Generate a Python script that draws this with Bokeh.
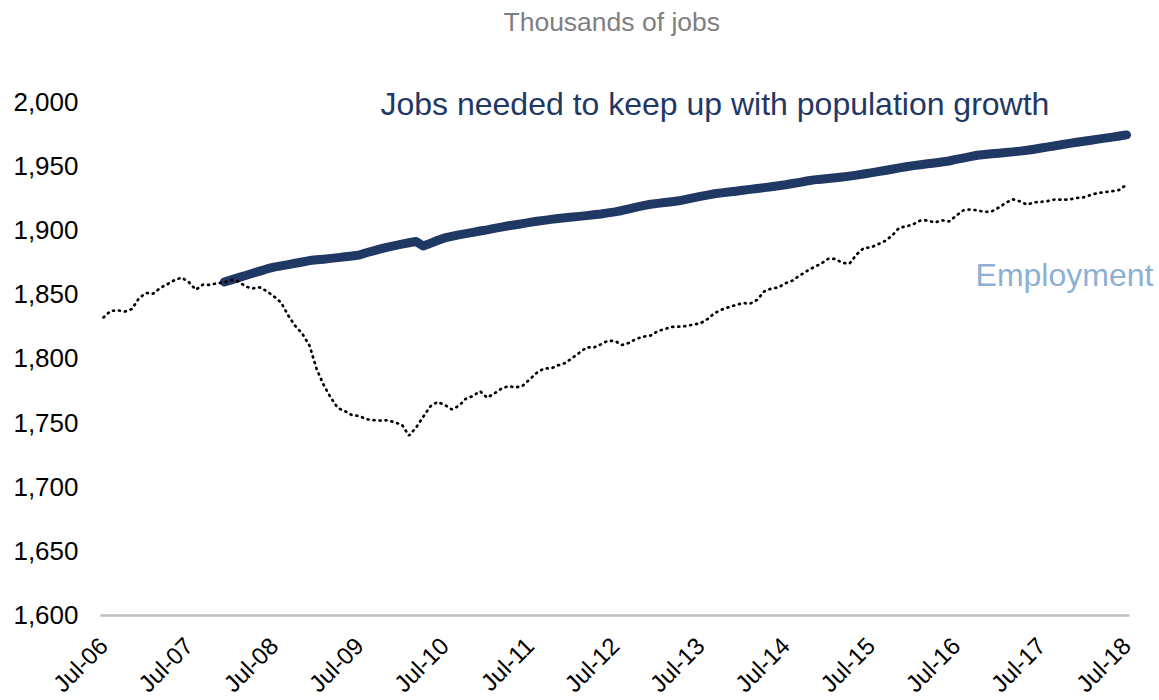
from bokeh.plotting import figure
from bokeh.models import FixedTicker, NumeralTickFormatter, Label, Range1d
from bokeh.embed import file_html
from bokeh.resources import INLINE
import math

# Months from Jul-06 (index 0) to Jul-18 (index 144)
months = list(range(145))

employment = [
    1832, 1837, 1837.5, 1836.5, 1838.5, 1847, 1851, 1850.5, 1855, 1857.8,
    1861, 1863, 1859.5, 1853.5, 1857.5, 1857.3, 1858.6, 1859.2, 1861.2, 1860,
    1856, 1854.5, 1855.4, 1852.3, 1848.3, 1843.5, 1833.5, 1825.3, 1819.2, 1810,
    1791.8, 1779.3, 1769.4, 1761.4, 1759, 1755.8, 1755.3, 1752.8, 1752, 1751.7,
    1752, 1750.3, 1748.5, 1740, 1746.3, 1754.6, 1762.7, 1766.2, 1764, 1760.4,
    1763, 1768.7, 1770.8, 1774.6, 1769.5, 1772.7, 1776.5, 1778.5, 1777.4, 1778.8,
    1783.8, 1788.9, 1792.3, 1792.3, 1794.7, 1796.5, 1800.5, 1804.5, 1808.7, 1808.5,
    1811, 1813.8, 1813.6, 1810.5, 1812.2, 1815.3, 1817, 1817.8, 1821.3, 1822.9,
    1824.6, 1824.8, 1825.2, 1826.4, 1827.3, 1830.6, 1835.2, 1838, 1839.9, 1841.6,
    1843.2, 1842.6, 1845.6, 1852.2, 1854.4, 1855.3, 1858.6, 1860.7, 1864.6, 1868,
    1871.1, 1873.7, 1877.6, 1877.5, 1874.4, 1873.8, 1880.9, 1885.9, 1886.5, 1888.8,
    1891.4, 1895.6, 1901.7, 1902.8, 1904.5, 1907.4, 1907.5, 1905.8, 1907.6, 1906.6,
    1911, 1915.2, 1916, 1915.3, 1914.1, 1914.4, 1917.4, 1921.1, 1923.9, 1922.3,
    1919.7, 1921.5, 1921.9, 1922.6, 1923.9, 1923.5, 1923.8, 1924.9, 1925.5, 1927.3,
    1928.8, 1929.5, 1930.2, 1931.2, 1935.4,
]

# Jobs needed to keep up with population growth: from Dec-07 (index 17)
jobs_months = list(range(17, 145))
jobs_needed = [
    1859.5, 1861.2, 1862.9, 1864.6, 1866.3, 1868, 1869.7, 1871.1, 1872.1, 1873.1,
    1874.1, 1875.1, 1876.2, 1876.8, 1877.3, 1877.9, 1878.5, 1879.2, 1879.8, 1880.5,
    1882.3, 1883.8, 1885.3, 1886.7, 1887.8, 1889, 1890.1, 1891.1, 1887.5, 1889.6,
    1891.8, 1893.8, 1895, 1896.2, 1897.2, 1898.2, 1899.2, 1900.1, 1901.2, 1902.3,
    1903.3, 1904.1, 1905, 1905.9, 1906.8, 1907.5, 1908.3, 1909, 1909.5, 1910.1,
    1910.6, 1911.2, 1911.9, 1912.5, 1913.3, 1914.1, 1915.2, 1916.5, 1917.8, 1919,
    1920, 1920.7, 1921.4, 1922, 1922.7, 1923.8, 1925, 1926.1, 1927.1, 1928.2,
    1928.9, 1929.6, 1930.2, 1930.9, 1931.6, 1932.3, 1933, 1933.7, 1934.4, 1935.2,
    1936.2, 1937.1, 1938.1, 1939, 1939.5, 1940.1, 1940.6, 1941.2, 1941.9, 1942.7,
    1943.6, 1944.5, 1945.4, 1946.3, 1947.3, 1948.3, 1949.2, 1950.1, 1950.8, 1951.5,
    1952.2, 1952.9, 1953.7, 1954.9, 1956, 1957.1, 1958.2, 1958.8, 1959.3, 1959.8,
    1960.3, 1960.8, 1961.4, 1962.1, 1962.9, 1963.8, 1964.7, 1965.6, 1966.5, 1967.4,
    1968.3, 1969.1, 1969.9, 1970.7, 1971.5, 1972.3, 1973.1, 1974,
]

tick_positions = [0, 12, 24, 36, 48, 60, 72, 84, 96, 108, 120, 132, 144]
tick_labels = ["Jul-06", "Jul-07", "Jul-08", "Jul-09", "Jul-10", "Jul-11", "Jul-12",
               "Jul-13", "Jul-14", "Jul-15", "Jul-16", "Jul-17", "Jul-18"]
y_ticks = [1600, 1650, 1700, 1750, 1800, 1850, 1900, 1950, 2000]

FONT = "Liberation Sans"
NAVY = "#1F3864"

x_pad = 0.422
p = figure(width=1159, height=700, output_backend="svg", toolbar_location=None,
           x_range=Range1d(-14.499, 148.645), y_range=Range1d(1533.85, 2078.6),
           min_border_left=0, min_border_right=0, min_border_top=0, min_border_bottom=0)
p.outline_line_color = None
p.background_fill_color = "white"
p.border_fill_color = "white"
p.xgrid.grid_line_color = None
p.ygrid.grid_line_color = None

# y axis fixed at the left edge of the plotting area
p.yaxis.fixed_location = months[0] - x_pad
p.yaxis.ticker = FixedTicker(ticks=y_ticks)
p.yaxis.formatter = NumeralTickFormatter(format="0,0")
p.yaxis.major_label_text_font = FONT
p.yaxis.major_label_text_font_size = "26px"
p.yaxis.major_label_text_color = "#000000"
p.yaxis.major_label_standoff = 16
p.yaxis.axis_line_color = None
p.yaxis.major_tick_line_color = None
p.yaxis.minor_tick_line_color = None

# x axis fixed at the 1,600 baseline
p.xaxis.fixed_location = y_ticks[0]
p.xaxis.ticker = FixedTicker(ticks=tick_positions)
p.xaxis.major_label_overrides = {t: l for t, l in zip(tick_positions, tick_labels)}
p.xaxis.major_label_orientation = math.pi / 4
p.xaxis.major_label_text_font = FONT
p.xaxis.major_label_text_font_size = "24px"
p.xaxis.major_label_text_color = "#000000"
p.xaxis.major_label_standoff = 20
p.xaxis.axis_line_color = None
p.xaxis.major_tick_line_color = None
p.xaxis.minor_tick_line_color = None

# category-axis baseline at the lowest y tick
base_x = [months[0] - x_pad, months[-1] + x_pad]
p.line(base_x, [y_ticks[0]] * 2, line_color="#BFBFBF", line_width=2.5)

p.line(jobs_months, jobs_needed, line_color=NAVY, line_width=9,
       line_cap="round", line_join="round")
p.line(months, employment, line_color="black", line_width=2.7,
       line_dash="1 5", line_cap="round")

p.add_layout(Label(x=56.3, y=2061.5, text="Thousands of jobs", text_font=FONT,
                   text_font_size="26.5px", text_color="#7F7F7F",
                   text_align="left", text_baseline="middle"))
p.add_layout(Label(x=38.99, y=1997.7, text="Jobs needed to keep up with population growth",
                   text_font=FONT, text_font_size="32px", text_color=NAVY,
                   text_align="left", text_baseline="middle"))
p.add_layout(Label(x=122.75, y=1864.6, text="Employment", text_font=FONT,
                   text_font_size="32px", text_color="#8DAFD5",
                   text_align="left", text_baseline="middle"))

open("out.html", "w").write(file_html(p, INLINE))
